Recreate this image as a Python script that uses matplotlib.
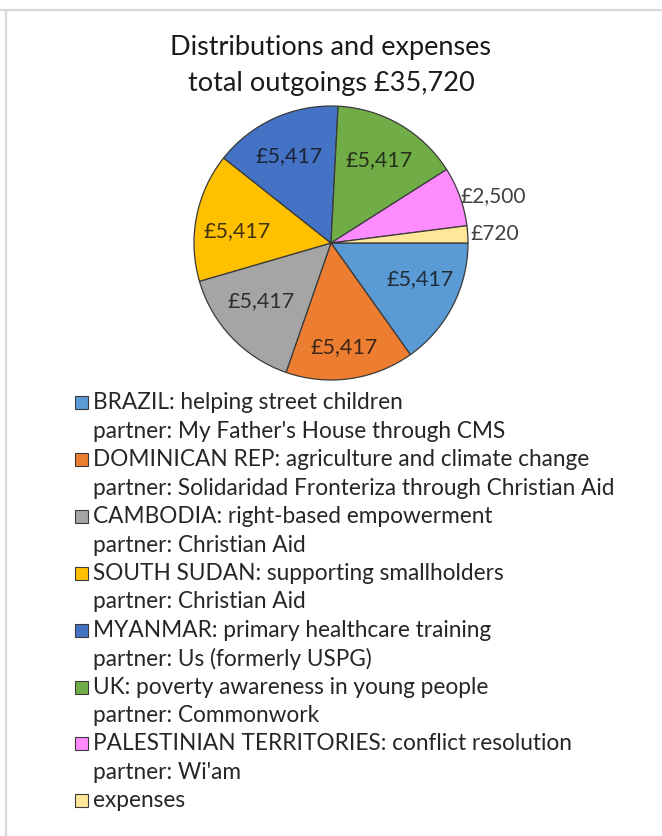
import numpy as np
import matplotlib
matplotlib.use("Agg")
import matplotlib.pyplot as plt
from matplotlib.patches import Rectangle
from matplotlib.lines import Line2D

# data
projects = ["BRAZIL: helping street children",
            "DOMINICAN REP: agriculture and climate change",
            "CAMBODIA: right-based empowerment",
            "SOUTH SUDAN: supporting smallholders",
            "MYANMAR: primary healthcare training",
            "UK: poverty awareness in young people",
            "PALESTINIAN TERRITORIES: conflict resolution",
            "expenses"]
partners = ["My Father's House through CMS",
            "Solidaridad Fronteriza through Christian Aid",
            "Christian Aid",
            "Christian Aid",
            "Us (formerly USPG)",
            "Commonwork",
            "Wi'am",
            None]
amounts = [5417, 5417, 5417, 5417, 5417, 5417, 2500, 720]
total = 35720

colors = ["#5B9BD5", "#ED7D31", "#A5A5A5", "#FFC000",
          "#4472C4", "#70AD47", "#FF8CFF", "#FFE699"]
# small nudges of the data labels (axes units), like excel's best fit
nudge = [(0.03, 0.06), (0.0, -0.07), (0.0, 0.06), (0.0, -0.05),
         (-0.02, 0.0), (0.0, 0.0), (0.02, 0.0), (0.04, 0.0)]

plt.rcParams['font.family'] = ['Lato', 'DejaVu Sans']

W, H = 662, 836
fig = plt.figure(figsize=(W/100, H/100), dpi=100)

# light frame lines (screenshot border)
fig.add_artist(Line2D([0, 1], [1-9.5/H, 1-9.5/H], color="#d9d9d9", lw=1.6))
fig.add_artist(Line2D([6/W, 6/W], [0, 1-9.5/H], color="#d9d9d9", lw=1.6))

fig.text(0.5, 1-48/H, "Distributions and expenses", ha='center', va='center',
         fontsize=19.5, color="#1a1a1a")
fig.text(0.5, 1-84/H, "total outgoings £{:,}".format(total), ha='center', va='center',
         fontsize=19.5, color="#1a1a1a")

# pie
cx, cy, r = 331, 243, 137
ax = fig.add_axes([(cx-r)/W, (H-cy-r)/H, 2*r/W, 2*r/H])
wedges, _ = ax.pie(amounts, colors=colors, startangle=0, counterclock=False,
                   radius=1, wedgeprops=dict(edgecolor="#3a3a3a", linewidth=0.9))
ax.set_xlim(-1, 1)
ax.set_ylim(-1, 1)
ax.set_aspect('equal')
ax.axis('off')

for w, val, c, (dx, dy) in zip(wedges, amounts, colors, nudge):
    mid = np.deg2rad((w.theta1 + w.theta2) / 2)
    txt = "£{:,}".format(val)
    if val / total < 0.1:
        ax.text(0.98*np.cos(mid) + dx, np.sin(mid) + dy, txt, ha='left', va='center',
                fontsize=15, color="#404040")
    else:
        dark = tuple(0.2*np.array(matplotlib.colors.to_rgb(c)) + 0.05)
        ax.text(0.7*np.cos(mid) + dx, 0.7*np.sin(mid) + dy, txt, ha='center',
                va='center', fontsize=15.5, color=dark)

# legend
y0, step = 403, 28.4
line = 0
for proj, part, c in zip(projects, partners, colors):
    y = y0 + line*step
    fig.add_artist(Rectangle((75/W, 1-(y+6.5)/H), 13/W, 13/H, facecolor=c,
                             edgecolor="#3a3a3a", linewidth=0.8))
    fig.text(93/W, 1-y/H, proj, ha='left', va='center', fontsize=16.3, color="#262626")
    line += 1
    if part:
        fig.text(93/W, 1-(y0+line*step)/H, "partner: " + part, ha='left', va='center',
                 fontsize=16.3, color="#262626")
        line += 1

fig.savefig("out.png", dpi=100, facecolor='white')
